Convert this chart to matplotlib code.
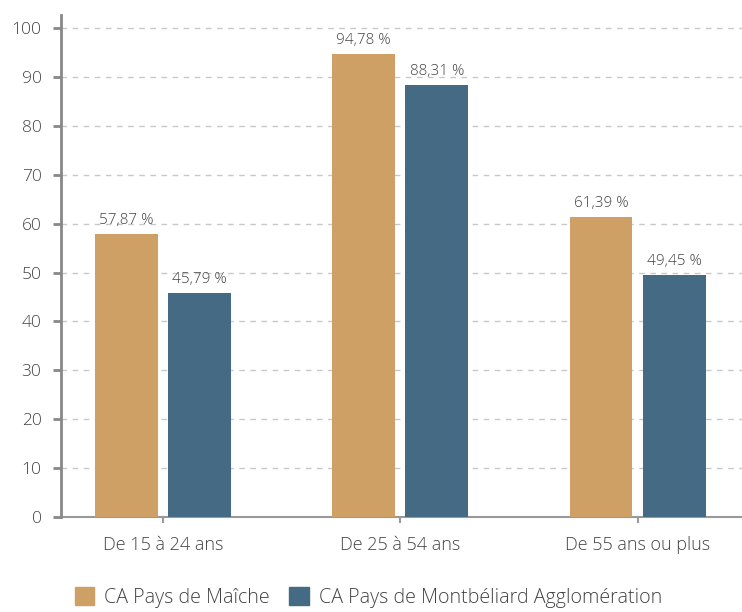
import matplotlib
matplotlib.use("Agg")
import matplotlib.pyplot as plt
import numpy as np
from matplotlib.patches import Patch

categories = ["De 15 à 24 ans", "De 25 à 54 ans", "De 55 ans ou plus"]
series_names = ["CA Pays de Maîche", "CA Pays de Montbéliard Agglomération"]
maiche = [57.87, 94.78, 61.39]
montbeliard = [45.79, 88.31, 49.45]
yticks = [0, 10, 20, 30, 40, 50, 60, 70, 80, 90, 100]

colors = ["#CFA066", "#456B84"]
txt = "#444444"
plt.rcParams['font.family'] = ['Open Sans', 'DejaVu Sans']
plt.rcParams['font.weight'] = 'light'

fig = plt.figure(figsize=(7.42, 6.12), dpi=100)
ax = fig.add_axes([61/742, 95/612, 1 - 61/742, (517-15)/612])

x = np.arange(len(categories))
w = 0.265
off = 0.154
b1 = ax.bar(x - off, maiche, w, color=colors[0], zorder=3)
b2 = ax.bar(x + off, montbeliard, w, color=colors[1], zorder=3)

def fmt(v):
    return f"{v:.2f}".replace(".", ",") + " %"

for bars, vals in ((b1, maiche), (b2, montbeliard)):
    for r, v in zip(bars, vals):
        ax.text(r.get_x() + r.get_width()/2, v + 1.2, fmt(v), ha="center", va="bottom",
                fontsize=11, color=txt, zorder=4, fontweight="light")

ax.set_xlim(-0.43, 2.44)
ax.set_ylim(0, 102.7)
ax.set_yticks(yticks)
ax.set_xticks(x)
ax.set_xticklabels(categories, fontweight="light")
ax.set_yticklabels([str(t) for t in yticks], fontweight="light")
ax.yaxis.grid(True, linestyle=(0, (4, 4)), color="#c8c8c8", linewidth=1, zorder=0)
ax.set_axisbelow(True)
for s in ["top", "right"]:
    ax.spines[s].set_visible(False)
ax.spines["left"].set_color("#888888")
ax.spines["left"].set_linewidth(2)
ax.spines["bottom"].set_color("#999999")
ax.spines["bottom"].set_linewidth(1.5)
ax.spines["bottom"].set_zorder(1)
ax.tick_params(axis="y", length=6, width=2, color="#888888", labelcolor=txt, labelsize=12.5, pad=8)
ax.tick_params(axis="x", length=4, width=1.5, color="#999999", labelcolor=txt, labelsize=13, pad=10)

handles = [Patch(color=c) for c in colors]
fig.legend(handles, series_names, loc="lower left", bbox_to_anchor=(57/742, -0.022), ncol=2,
           frameon=False, labelcolor=txt, handlelength=1.0, handleheight=1.0,
           handletextpad=0.5, columnspacing=1.0, prop={'weight': 'light', 'size': 14.1})

fig.savefig("out.png", dpi=100)
